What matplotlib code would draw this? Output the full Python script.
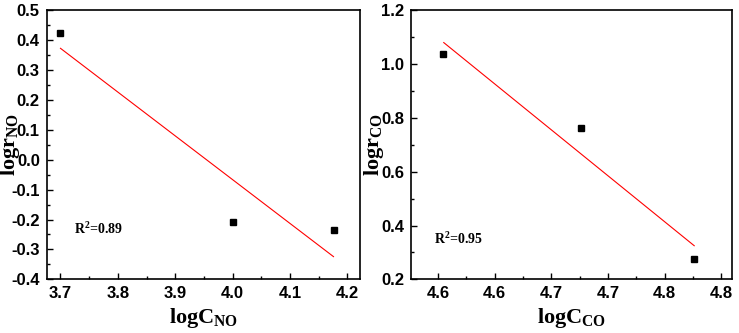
import matplotlib
matplotlib.use("Agg")
import matplotlib.pyplot as plt
from matplotlib.ticker import FixedLocator, AutoMinorLocator

plt.rcParams['font.family'] = 'Liberation Sans'
plt.rcParams['font.weight'] = 'bold'
plt.rcParams['axes.unicode_minus'] = False
plt.rcParams['mathtext.fontset'] = 'custom'
plt.rcParams['mathtext.rm'] = 'Liberation Serif:bold'

# NO panel
x_no = [3.700, 4.000, 4.176]
y_no = [0.423, -0.207, -0.235]
fit_no_x = [3.700, 4.176]
fit_no_y = [0.372, -0.324]

# CO panel
x_co = [4.554, 4.676, 4.776]
y_co = [1.037, 0.761, 0.274]
fit_co_x = [4.555, 4.776]
fit_co_y = [1.079, 0.325]

co_ticks = [4.55, 4.60, 4.65, 4.70, 4.75, 4.80]
co_tick_labels = ['4.6', '4.6', '4.7', '4.7', '4.8', '4.8']

fig = plt.figure(figsize=(7.39, 3.33), dpi=100)
ax1 = fig.add_axes([0.0632, 0.161, 0.4238, 0.809])
ax2 = fig.add_axes([0.556, 0.161, 0.434, 0.809])

serif = dict(family='Liberation Serif', weight='bold')

def style(ax):
    for s in ax.spines.values():
        s.set_linewidth(1.2)
    ax.tick_params(which='both', direction='in', top=False, right=False,
                   labelsize=12, width=1.0)
    ax.tick_params(which='major', length=4, pad=5)
    ax.tick_params(which='minor', length=2.5)
    ax.xaxis.set_minor_locator(AutoMinorLocator(2))
    ax.yaxis.set_minor_locator(AutoMinorLocator(2))
    for lab in ax.get_xticklabels() + ax.get_yticklabels():
        lab.set_fontweight('bold')

ax1.plot(x_no, y_no, 's', color='black', markersize=4.5)
ax1.plot(fit_no_x, fit_no_y, '-', color='red', linewidth=0.8)
ax1.set_xlim(3.676, 4.222)
ax1.set_ylim(-0.4, 0.5)
ax1.set_xticks([3.7, 3.8, 3.9, 4.0, 4.1, 4.2])
ax1.set_yticks([-0.4, -0.3, -0.2, -0.1, 0.0, 0.1, 0.2, 0.3, 0.4, 0.5])
style(ax1)
ax1.set_xlabel(r'logC$\mathregular{_{NO}}$', fontsize=16, **serif)
ax1.set_ylabel(r'logr$\mathregular{_{NO}}$', fontsize=16, **serif)
ax1.xaxis.set_label_coords(0.5, -0.1)
ax1.yaxis.set_label_coords(-0.079, 0.5)
ax1.text(0.087, 0.168, r'R$\mathregular{^2}$=0.89', transform=ax1.transAxes,
         fontsize=10, **serif)

ax2.plot(x_co, y_co, 's', color='black', markersize=4.5)
ax2.plot(fit_co_x, fit_co_y, '-', color='red', linewidth=0.8)
ax2.set_xlim(4.526, 4.809)
ax2.set_ylim(0.2, 1.2)
ax2.xaxis.set_major_locator(FixedLocator(co_ticks))
ax2.set_xticklabels(co_tick_labels)
ax2.set_yticks([0.2, 0.4, 0.6, 0.8, 1.0, 1.2])
style(ax2)
ax2.set_xlabel(r'logC$\mathregular{_{CO}}$', fontsize=16, **serif)
ax2.set_ylabel(r'logr$\mathregular{_{CO}}$', fontsize=16, **serif)
ax2.xaxis.set_label_coords(0.5, -0.1)
ax2.yaxis.set_label_coords(-0.078, 0.5)
ax2.text(0.072, 0.131, r'R$\mathregular{^2}$=0.95', transform=ax2.transAxes,
         fontsize=10, **serif)

fig.savefig('out.png', dpi=100)
